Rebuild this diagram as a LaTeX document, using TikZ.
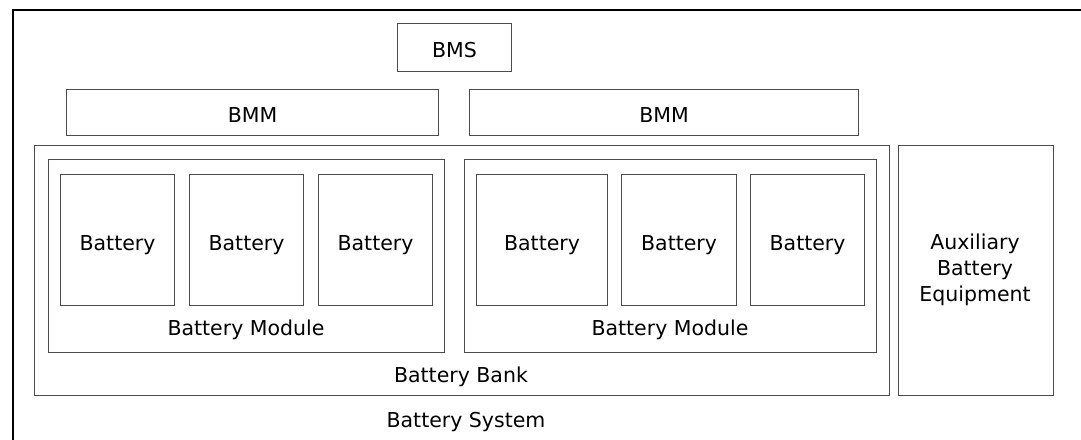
\documentclass[tikz,border=0pt]{standalone}
\usepackage{fontspec}
\setmainfont{DejaVu Sans}
\begin{document}
\begin{tikzpicture}[x=1pt,y=-1pt,
  box/.style={draw=black!70, line width=1.1pt, anchor=north west, inner sep=0pt},
  lbl/.style={font=\fontsize{20.5}{26}\selectfont, text=black, inner sep=0pt, align=center, yshift=-2pt},
  frame/.style={draw=black, line width=2.2pt}]
\useasboundingbox (0,0) rectangle (1081,439);
\clip (0,0) rectangle (1081,439);
% outer battery system frame (continues past the picture)
\node[frame, anchor=north west, minimum width=1100pt, minimum height=460pt, inner sep=0pt] (sys) at (12,9) {};
\node[lbl] (systxt) at (466,420) {Battery System};
% BMS and BMM
\node[box, minimum width=114pt, minimum height=48pt] (bms) at (397,23) {};
\node[lbl] at (bms.center) {BMS};
\node[box, minimum width=372pt, minimum height=46pt] (bmm1) at (66,89) {};
\node[lbl] at (bmm1.center) {BMM};
\node[box, minimum width=389pt, minimum height=46pt] (bmm2) at (469,89) {};
\node[lbl] at (bmm2.center) {BMM};
% bank
\node[box, minimum width=855pt, minimum height=250pt] (bank) at (34,145) {};
\node[lbl] (banktxt) at (461,375) {Battery Bank};
% aux
\node[box, minimum width=155pt, minimum height=250pt] (aux) at (898,145) {};
\node[lbl] at (975,268) {Auxiliary\\Battery\\Equipment};
% modules
\node[box, minimum width=396pt, minimum height=193pt] (mod1) at (48,159) {};
\node[lbl] at (246,328) {Battery Module};
\node[box, minimum width=412pt, minimum height=193pt] (mod2) at (464,159) {};
\node[lbl] at (670,328) {Battery Module};
% batteries
\foreach \n/\x/\w in {a/60/114, b/189/114, c/318/114, d/476/131, e/621/115, f/750/114}{
  \node[box, minimum width=\w pt, minimum height=131pt] (bat\n) at (\x,174) {};
  \node[lbl] at ([yshift=-3pt]bat\n.center) {Battery};
}
\end{tikzpicture}
\end{document}
